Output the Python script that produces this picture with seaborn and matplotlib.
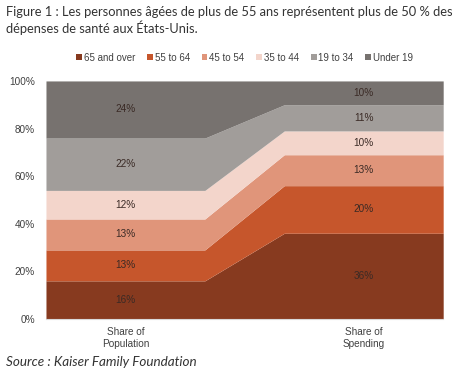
import numpy as np
import pandas as pd
import seaborn as sns
import matplotlib.pyplot as plt

# data (percent)
categories = ["Share of\nPopulation", "Share of\nSpending"]
groups = ["65 and over", "55 to 64", "45 to 54", "35 to 44", "19 to 34", "Under 19"]
population = [16, 13, 13, 12, 22, 24]
spending = [36, 20, 13, 10, 11, 10]
colors = ["#873A1F", "#C6562C", "#E0957A", "#F3D5CB", "#A19D9A", "#77726F"]

df = pd.DataFrame({"group": groups, categories[0]: population, categories[1]: spending})

sns.set_theme(style="white")
plt.rcParams["font.family"] = ["Liberation Sans", "DejaVu Sans"]

fig = plt.figure(figsize=(4.74, 3.73), dpi=100)
ax = fig.add_axes([0.097, 0.145, 0.838, 0.638])

# each category gets a flat band of width 2, with a 1-unit slope between bands
xs = []
for i in range(len(categories)):
    xs += [i * 3, i * 3 + 2]
xs = np.array(xs)
vals = df[categories].to_numpy()
ys = np.repeat(vals, 2, axis=1)

ax.stackplot(xs, ys, colors=colors, labels=groups, linewidth=0)

# value labels in the middle of each flat band
centers = [i * 3 + 1 for i in range(len(categories))]
cum = np.cumsum(vals, axis=0)
for j, c in enumerate(categories):
    for k in range(len(groups)):
        mid = cum[k, j] - vals[k, j] / 2
        ax.text(centers[j], mid, f"{vals[k, j]}%", ha="center", va="center",
                fontsize=7.2, color="#3a2a25")

ax.set_xlim(xs.min(), xs.max())
ax.set_ylim(0, 100)
ax.set_yticks(range(0, 101, 20))
ax.set_yticklabels([f"{v}%" for v in range(0, 101, 20)])
ax.set_xticks(centers)
ax.set_xticklabels(categories)
ax.tick_params(axis="both", length=0, labelsize=7.2, colors="#404040")
ax.tick_params(axis="y", pad=8)
ax.tick_params(axis="x", pad=6)
for s in ["top", "right", "left"]:
    ax.spines[s].set_visible(False)
ax.spines["bottom"].set_color("#d9d9d9")
ax.spines["bottom"].set_linewidth(0.8)

ax.legend(loc="lower center", bbox_to_anchor=(0.5, 1.04), ncol=6, frameon=False,
          fontsize=7, handlelength=0.6, handleheight=0.6, handletextpad=0.2,
          columnspacing=1.2, labelcolor="#404040")

fig.text(0.012, 0.985, "Figure 1 : Les personnes âgées de plus de 55 ans représentent plus de 50 % des\ndépenses de santé aux États-Unis.",
         ha="left", va="top", fontsize=9.3, family=["Lato", "DejaVu Sans"],
         color="#333333", linespacing=1.25)
fig.text(0.012, 0.03, "Source : Kaiser Family Foundation", ha="left", va="center",
         fontsize=9.7, style="italic", family=["Lato", "DejaVu Sans"], color="#333333")

fig.savefig("out.png", dpi=100)
